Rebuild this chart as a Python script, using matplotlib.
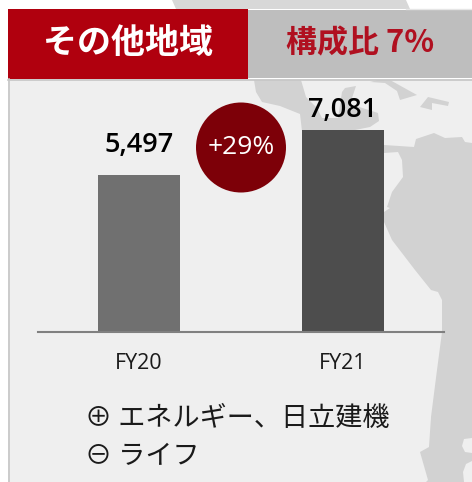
#!/usr/bin/env python3
"""その他地域 revenue, FY20 vs FY21, on a faint map background."""
import matplotlib
matplotlib.use('Agg')
import matplotlib.pyplot as plt
from matplotlib.patches import Circle, Polygon, Rectangle

plt.rcParams['font.family'] = ['Noto Sans CJK JP', 'DejaVu Sans']

YEARS = ['FY20', 'FY21']
VALUES = [5497, 7081]
VALUE_LABELS = ['5,497', '7,081']
BAR_COLORS = ['#707070', '#4d4d4d']
TITLE = 'その他地域'
SHARE = '構成比 7%'
GROWTH = '+29%'
NOTES = ['⊕ エネルギー、日立建機', '⊖ ライフ']

W, H = 472, 482
RED = '#b0000e'
LATIN = ['Open Sans', 'DejaVu Sans']
# the two value labels do not sit at the same height above their bars
LABEL_PADS = (17, 9)

# map shapes behind the panel, pixel coords
MAP_LAND = [
    [(254, 80), (301, 80), (306, 97), (317, 108), (322, 118), (338, 118), (342, 92), (345, 88),
     (356, 86), (350, 104), (378, 113), (379, 121), (370, 127), (350, 131), (302, 131),
     (300, 114), (280, 106), (262, 102), (256, 92)],
    [(370, 82), (378, 80), (390, 80), (417, 95), (400, 100), (397, 91), (385, 83)],
    [(428, 97), (449, 102), (448, 106), (432, 103), (432, 110), (420, 107)],
    [(384, 145), (414, 147), (416, 139), (434, 133), (445, 138), (462, 137), (465, 142),
     (472, 143), (472, 482), (426, 482), (428, 480), (420, 452), (429, 447), (431, 417),
     (437, 370), (442, 332), (442, 300), (438, 292), (431, 290), (415, 270), (392, 240),
     (384, 222), (384, 212), (390, 208), (387, 207), (392, 192), (403, 177), (402, 160),
     (398, 152), (384, 153)],
]
MAP_LAKES = [
    [(472, 438), (464, 439), (462, 446), (465, 452), (472, 453)],
    [(472, 461), (466, 464), (463, 472), (464, 482), (472, 482)],
    [(423, 421), (431, 417), (428, 431), (421, 432)],
]


def main():
    fig = plt.figure(figsize=(W / 100, H / 100), dpi=100, facecolor='white')

    # background layer in pixels
    bg = fig.add_axes([0, 0, 1, 1], zorder=0)
    bg.set_xlim(0, W)
    bg.set_ylim(H, 0)
    bg.axis('off')
    bg.add_patch(Polygon([(172, 0), (406, 0), (410, 9), (176, 9)], fc='#d8d8d8', ec='none'))
    bg.add_patch(Rectangle((8, 79), W - 8, H - 79, fc='#efefef', ec='none'))
    for pts in MAP_LAND:
        bg.add_patch(Polygon(pts, fc='#d2d2d2', ec='none'))
    for pts in MAP_LAKES:
        bg.add_patch(Polygon(pts, fc='#efefef', ec='none'))
    bg.plot([9, 9], [79, H], color='#c6c6c6', lw=1.2)
    bg.plot([8, W], [79.5, 79.5], color='#c6c6c6', lw=1.2)
    bg.plot([406, W], [8.5, 8.5], color='#e6e6e6', lw=1)
    bg.add_patch(Rectangle((248, 10), W - 248, 68, fc='#bebebe', ec='none'))
    bg.add_patch(Rectangle((8, 9), 240, 70, fc=RED, ec='none'))
    bg.text(128.5, 43, TITLE, color='white', fontsize=24.5, fontweight='bold',
            ha='center', va='center')
    bg.text(360, 43, SHARE, color='#b01020', fontsize=22.3, fontweight='bold',
            ha='center', va='center')

    # bars
    ax = fig.add_axes([38 / W, 1 - 332 / H, 406 / W, 252 / H], zorder=1)
    ax.patch.set_alpha(0)
    x = range(len(YEARS))
    bars = ax.bar(x, VALUES, width=0.402, color=BAR_COLORS)
    for rect, lab, pad in zip(bars, VALUE_LABELS, LABEL_PADS):
        ax.annotate(lab, (rect.get_x() + rect.get_width() / 2, rect.get_height()),
                    xytext=(0, pad), textcoords='offset points', ha='center', va='baseline',
                    fontsize=19.5, fontweight='semibold', family=LATIN, color='black')
    ax.set_xlim(-0.495, 1.495)
    ax.set_ylim(0, 8833)
    ax.set_xticks(list(x), YEARS, fontsize=15.5, color='#1a1a1a', family=LATIN)
    ax.tick_params(axis='x', length=0, pad=15)
    ax.set_yticks([])
    for side in ('top', 'left', 'right'):
        ax.spines[side].set_visible(False)
    ax.spines['bottom'].set_color('#808080')
    ax.spines['bottom'].set_linewidth(1.5)

    # growth badge and notes on top
    top = fig.add_axes([0, 0, 1, 1], zorder=2)
    top.set_xlim(0, W)
    top.set_ylim(H, 0)
    top.axis('off')
    top.add_patch(Circle((241, 147.5), 45, fc='#7d0008', ec='none'))
    top.text(241, 147, GROWTH, color='white', fontsize=19, family=LATIN, ha='center', va='center')
    top.text(85, 419, NOTES[0], color='#1a1a1a', fontsize=19.5, ha='left', va='center')
    top.text(85, 457, NOTES[1], color='#1a1a1a', fontsize=19.5, ha='left', va='center')

    fig.savefig('out.png', dpi=100)
    plt.close(fig)


if __name__ == '__main__':
    main()
